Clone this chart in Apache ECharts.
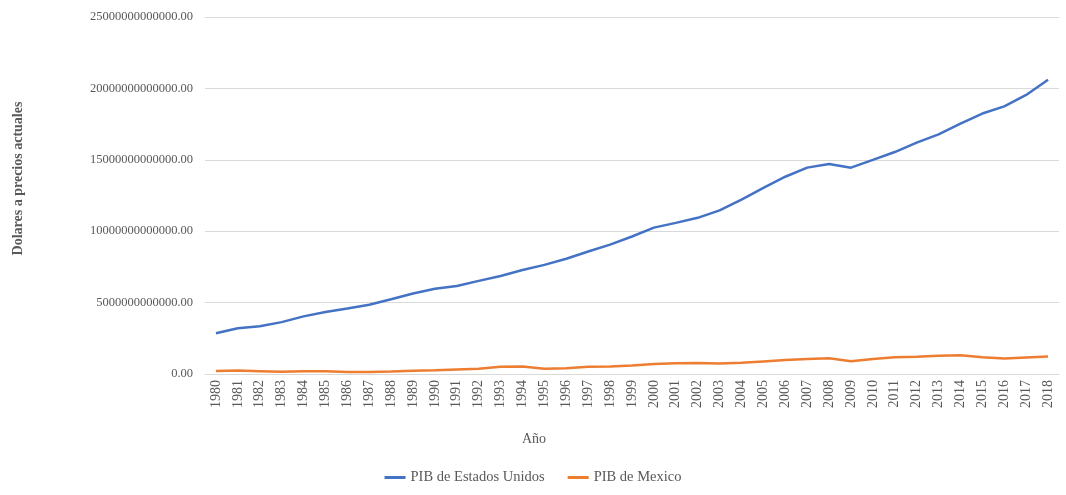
<!DOCTYPE html>
<html>
<head>
<meta charset="utf-8">
<script src="https://cdn.jsdelivr.net/npm/echarts@6/dist/echarts.min.js"></script>
<style>html,body{margin:0;padding:0;background:#fff}#c{width:1066px;height:495px}</style>
</head>
<body>
<div id="c"></div>
<script>
var years = ['1980','1981','1982','1983','1984','1985','1986','1987','1988','1989','1990','1991','1992','1993','1994','1995','1996','1997','1998','1999','2000','2001','2002','2003','2004','2005','2006','2007','2008','2009','2010','2011','2012','2013','2014','2015','2016','2017','2018'];
var pibEstadosUnidos = [2.857e12,3.207e12,3.343e12,3.634e12,4.037e12,4.339e12,4.580e12,4.855e12,5.236e12,5.642e12,5.963e12,6.158e12,6.520e12,6.859e12,7.287e12,7.640e12,8.073e12,8.578e12,9.063e12,9.631e12,10.252e12,10.582e12,10.936e12,11.458e12,12.214e12,13.037e12,13.815e12,14.452e12,14.713e12,14.449e12,14.992e12,15.543e12,16.197e12,16.785e12,17.527e12,18.238e12,18.745e12,19.543e12,20.612e12];
var pibMexico = [0.206e12,0.240e12,0.200e12,0.156e12,0.184e12,0.195e12,0.134e12,0.147e12,0.181e12,0.221e12,0.261e12,0.314e12,0.363e12,0.500e12,0.527e12,0.360e12,0.411e12,0.500e12,0.526e12,0.600e12,0.708e12,0.756e12,0.772e12,0.729e12,0.782e12,0.877e12,0.975e12,1.053e12,1.110e12,0.900e12,1.058e12,1.180e12,1.201e12,1.274e12,1.315e12,1.171e12,1.078e12,1.159e12,1.222e12];
var yTicks = {min: 0, max: 25e12, interval: 5e12};

var font = 'Liberation Serif';
var gray = '#595959';
var chart = echarts.init(document.getElementById('c'));
chart.setOption({
  animation: false,
  grid: {left: 205, right: 7, top: 17, bottom: 121, containLabel: false},
  legend: {
    bottom: 5, left: 'center',
    icon: 'rect', itemWidth: 21, itemHeight: 3, itemGap: 23,
    textStyle: {fontFamily: font, fontSize: 14.5, color: gray},
    data: ['PIB de Estados Unidos', 'PIB de Mexico']
  },
  xAxis: {
    type: 'category', data: years, boundaryGap: true,
    name: 'Año', nameLocation: 'middle', nameGap: 58,
    nameTextStyle: {fontFamily: font, fontSize: 14, color: gray, padding: [0, 196, 0, 0]},
    axisLine: {lineStyle: {color: '#d9d9d9'}},
    axisTick: {show: false},
    axisLabel: {rotate: 90, interval: 0, margin: 6, fontFamily: font, fontSize: 14, color: gray}
  },
  yAxis: {
    type: 'value', min: yTicks.min, max: yTicks.max, interval: yTicks.interval,
    name: 'Dolares a precios actuales', nameLocation: 'middle', nameGap: 180,
    nameTextStyle: {fontFamily: font, fontSize: 14, fontWeight: 'bold', color: gray, padding: [0, 0, 0, 34]},
    axisLine: {show: false}, axisTick: {show: false},
    splitLine: {lineStyle: {color: '#d9d9d9'}},
    axisLabel: {margin: 12, fontFamily: font, fontSize: 12.5, color: gray, formatter: function (v) { return v.toFixed(2); }}
  },
  series: [
    {name: 'PIB de Estados Unidos', type: 'line', data: pibEstadosUnidos, showSymbol: false, symbol: 'none', lineStyle: {color: '#4472C4', width: 2.5}, itemStyle: {color: '#4472C4'}},
    {name: 'PIB de Mexico', type: 'line', data: pibMexico, showSymbol: false, symbol: 'none', lineStyle: {color: '#ED7D31', width: 2.5}, itemStyle: {color: '#ED7D31'}}
  ]
});
</script>
</body>
</html>
